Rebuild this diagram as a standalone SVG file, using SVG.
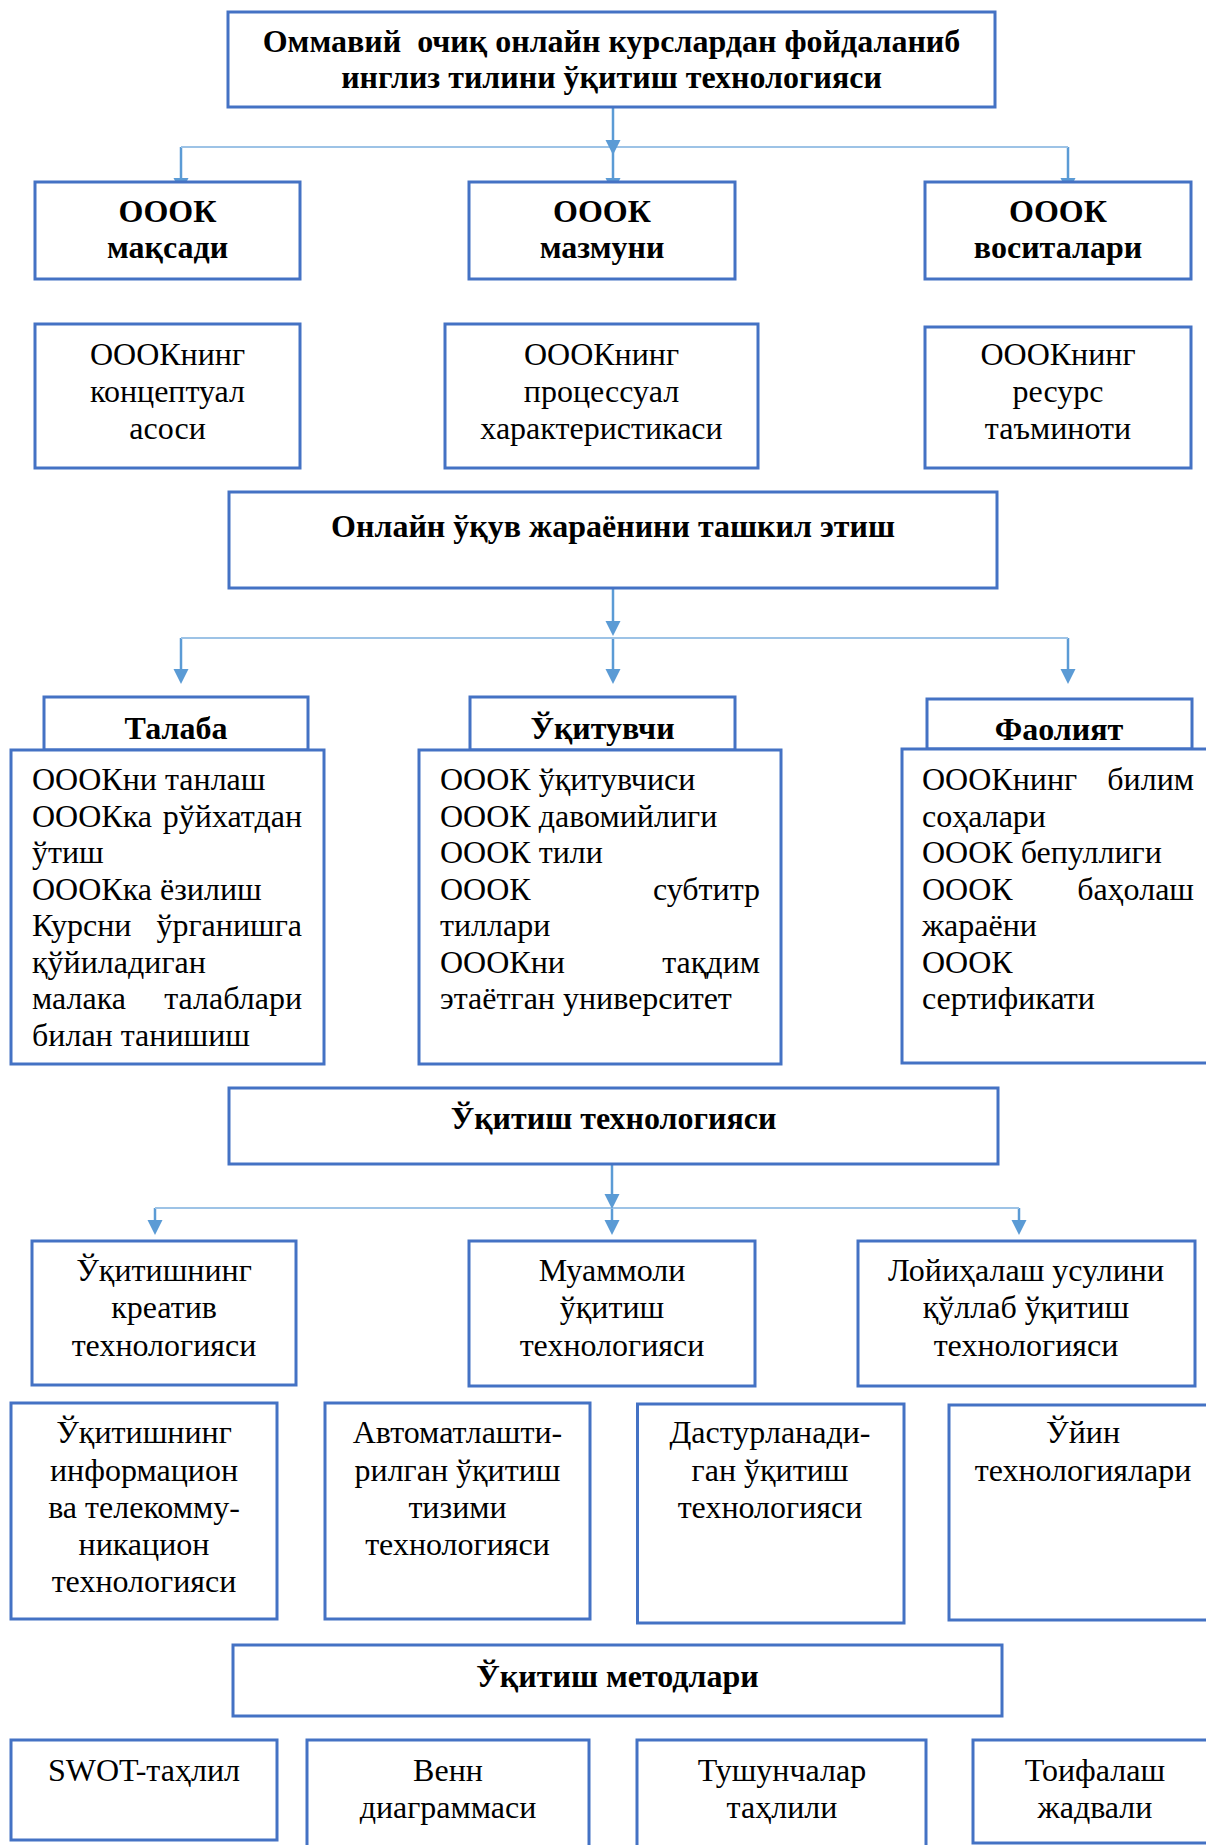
<svg xmlns="http://www.w3.org/2000/svg" xmlns:xlink="http://www.w3.org/1999/xlink" width="1206" height="1845" viewBox="0 0 1206 1845">
<style>
.box{fill:#fff;stroke:#4472C4;stroke-width:3}
.b{font-family:"Liberation Serif","Times New Roman",serif;font-weight:bold;font-size:32px;fill:#000}
.r{font-family:"Liberation Serif","Times New Roman",serif;font-size:32px;fill:#000}
.c{text-anchor:middle}
.e{text-anchor:end}
.vl{stroke:#5B9BD5;stroke-width:2.5;fill:none}
.hl{stroke:#9DC3E6;stroke-width:2;fill:none}
.ah{fill:#5B9BD5}
</style>
<defs>
<polygon id="ah" points="-7.5,-15 7.5,-15 0,0"/>
</defs>
<rect width="1206" height="1845" fill="#fff"/>
<g id="connectors">
<path class="vl" d="M613 108V183M181 147V183M1068 147V183"/>
<path class="hl" d="M181 147H1068"/>
<use class="ah" xlink:href="#ah" x="613" y="155"/>
<use class="ah" xlink:href="#ah" x="613" y="193"/>
<use class="ah" xlink:href="#ah" x="181" y="193"/>
<use class="ah" xlink:href="#ah" x="1068" y="193"/>
<path class="vl" d="M613 589V630M181 638V678M613 638V678M1068 638V678"/>
<path class="hl" d="M181 638H1068"/>
<use class="ah" xlink:href="#ah" x="613" y="636"/>
<use class="ah" xlink:href="#ah" x="181" y="684"/>
<use class="ah" xlink:href="#ah" x="613" y="684"/>
<use class="ah" xlink:href="#ah" x="1068" y="684"/>
<path class="vl" d="M612 1165V1203M155 1208V1229M612 1208V1229M1019 1208V1229"/>
<path class="hl" d="M155 1208H1019"/>
<use class="ah" xlink:href="#ah" x="612" y="1209"/>
<use class="ah" xlink:href="#ah" x="155" y="1235"/>
<use class="ah" xlink:href="#ah" x="612" y="1235"/>
<use class="ah" xlink:href="#ah" x="1019" y="1235"/>
</g>
<g id="title">
<rect class="box" x="228" y="12" width="767" height="95"/>
<text class="b c" x="611.5" y="52" xml:space="preserve">Оммавий  очиқ онлайн курслардан фойдаланиб</text>
<text class="b c" x="611.5" y="88">инглиз тилини ўқитиш технологияси</text>
</g>
<g id="n-maqsad">
<rect class="box" x="35" y="182" width="265" height="97"/>
<text class="b c" x="167.5" y="222">ОООК</text>
<text class="b c" x="167.5" y="258">мақсади</text>
</g>
<g id="n-mazmun">
<rect class="box" x="469" y="182" width="266" height="97"/>
<text class="b c" x="602" y="222">ОООК</text>
<text class="b c" x="602" y="258">мазмуни</text>
</g>
<g id="n-vosita">
<rect class="box" x="925" y="182" width="266" height="97"/>
<text class="b c" x="1058" y="222">ОООК</text>
<text class="b c" x="1058" y="258">воситалари</text>
</g>
<g id="n-konsept">
<rect class="box" x="35" y="324" width="265" height="144"/>
<text class="r c" x="167.5" y="365">ОООКнинг</text>
<text class="r c" x="167.5" y="402">концептуал</text>
<text class="r c" x="167.5" y="439">асоси</text>
</g>
<g id="n-protsess">
<rect class="box" x="445" y="324" width="313" height="144"/>
<text class="r c" x="601.5" y="365">ОООКнинг</text>
<text class="r c" x="601.5" y="402">процессуал</text>
<text class="r c" x="601.5" y="439">характеристикаси</text>
</g>
<g id="n-resurs">
<rect class="box" x="925" y="327" width="266" height="141"/>
<text class="r c" x="1058" y="365">ОООКнинг</text>
<text class="r c" x="1058" y="402">ресурс</text>
<text class="r c" x="1058" y="439">таъминоти</text>
</g>
<g id="n-online">
<rect class="box" x="229" y="492" width="768" height="96"/>
<text class="b c" x="613" y="537">Онлайн ўқув жараёнини ташкил этиш</text>
</g>
<g id="n-talaba">
<rect class="box" x="44" y="697" width="264" height="53"/>
<text class="b c" x="176" y="739">Талаба</text>
<rect class="box" x="11" y="750" width="313" height="314"/>
<text class="r" x="32" y="790">ОООКни танлаш</text>
<text class="r" x="32" y="826.5">ОООКка</text><text class="r e" x="302" y="826.5">рўйхатдан</text>
<text class="r" x="32" y="863">ўтиш</text>
<text class="r" x="32" y="899.5">ОООКка ёзилиш</text>
<text class="r" x="32" y="936">Курсни</text><text class="r e" x="302" y="936">ўрганишга</text>
<text class="r" x="32" y="972.5">қўйиладиган</text>
<text class="r" x="32" y="1009">малака</text><text class="r e" x="302" y="1009">талаблари</text>
<text class="r" x="32" y="1045.5">билан танишиш</text>
</g>
<g id="n-ukituvchi">
<rect class="box" x="470" y="697" width="265" height="53"/>
<text class="b c" x="602.5" y="739">Ўқитувчи</text>
<rect class="box" x="419" y="750" width="362" height="314"/>
<text class="r" x="440" y="790">ОООК ўқитувчиси</text>
<text class="r" x="440" y="826.5">ОООК давомийлиги</text>
<text class="r" x="440" y="863">ОООК тили</text>
<text class="r" x="440" y="899.5">ОООК</text><text class="r e" x="760" y="899.5">субтитр</text>
<text class="r" x="440" y="936">тиллари</text>
<text class="r" x="440" y="972.5">ОООКни</text><text class="r e" x="760" y="972.5">тақдим</text>
<text class="r" x="440" y="1009">этаётган университет</text>
</g>
<g id="n-faoliyat">
<rect class="box" x="927" y="699" width="265" height="50"/>
<text class="b c" x="1059" y="740">Фаолият</text>
<rect class="box" x="902" y="749" width="320" height="314"/>
<text class="r" x="922" y="790">ОООКнинг</text><text class="r e" x="1194" y="790">билим</text>
<text class="r" x="922" y="826.5">соҳалари</text>
<text class="r" x="922" y="863">ОООК бепуллиги</text>
<text class="r" x="922" y="899.5">ОООК</text><text class="r e" x="1194" y="899.5">баҳолаш</text>
<text class="r" x="922" y="936">жараёни</text>
<text class="r" x="922" y="972.5">ОООК</text>
<text class="r" x="922" y="1009">сертификати</text>
</g>
<g id="n-texnologiya">
<rect class="box" x="229" y="1088" width="769" height="76"/>
<text class="b c" x="613.5" y="1129">Ўқитиш технологияси</text>
</g>
<g id="n-kreativ">
<rect class="box" x="32" y="1241" width="264" height="144"/>
<text class="r c" x="164" y="1281">Ўқитишнинг</text>
<text class="r c" x="164" y="1318">креатив</text>
<text class="r c" x="164" y="1356">технологияси</text>
</g>
<g id="n-muammoli">
<rect class="box" x="469" y="1241" width="286" height="145"/>
<text class="r c" x="612" y="1281">Муаммоли</text>
<text class="r c" x="612" y="1318">ўқитиш</text>
<text class="r c" x="612" y="1356">технологияси</text>
</g>
<g id="n-loyiha">
<rect class="box" x="858" y="1241" width="337" height="145"/>
<text class="r c" x="1026" y="1281">Лойиҳалаш усулини</text>
<text class="r c" x="1026" y="1318">қўллаб ўқитиш</text>
<text class="r c" x="1026" y="1356">технологияси</text>
</g>
<g id="n-info">
<rect class="box" x="11" y="1403" width="266" height="216"/>
<text class="r c" x="144" y="1443">Ўқитишнинг</text>
<text class="r c" x="144" y="1481">информацион</text>
<text class="r c" x="144" y="1518">ва телекомму-</text>
<text class="r c" x="144" y="1555">никацион</text>
<text class="r c" x="144" y="1592">технологияси</text>
</g>
<g id="n-avto">
<rect class="box" x="325" y="1403" width="265" height="216"/>
<text class="r c" x="457.5" y="1443">Автоматлашти-</text>
<text class="r c" x="457.5" y="1481">рилган ўқитиш</text>
<text class="r c" x="457.5" y="1518">тизими</text>
<text class="r c" x="457.5" y="1555">технологияси</text>
</g>
<g id="n-dastur">
<rect class="box" x="637.5" y="1404" width="266.5" height="219"/>
<text class="r c" x="770" y="1443">Дастурланади-</text>
<text class="r c" x="770" y="1481">ган ўқитиш</text>
<text class="r c" x="770" y="1518">технологияси</text>
</g>
<g id="n-uyin">
<rect class="box" x="949" y="1405" width="268" height="215"/>
<text class="r c" x="1083" y="1443">Ўйин</text>
<text class="r c" x="1083" y="1481">технологиялари</text>
</g>
<g id="n-metod">
<rect class="box" x="233" y="1645" width="769" height="71"/>
<text class="b c" x="617.5" y="1687">Ўқитиш методлари</text>
</g>
<g id="n-swot">
<rect class="box" x="11" y="1740" width="266" height="100"/>
<text class="r c" x="144" y="1781">SWOT-таҳлил</text>
</g>
<g id="n-venn">
<rect class="box" x="307" y="1740" width="282" height="120"/>
<text class="r c" x="448" y="1781">Венн</text>
<text class="r c" x="448" y="1818">диаграммаси</text>
</g>
<g id="n-tushuncha">
<rect class="box" x="637" y="1740" width="289" height="120"/>
<text class="r c" x="782" y="1781">Тушунчалар</text>
<text class="r c" x="782" y="1818">таҳлили</text>
</g>
<g id="n-toifa">
<rect class="box" x="973" y="1740" width="244" height="103"/>
<text class="r c" x="1095" y="1781">Тоифалаш</text>
<text class="r c" x="1095" y="1818">жадвали</text>
</g>
</svg>
